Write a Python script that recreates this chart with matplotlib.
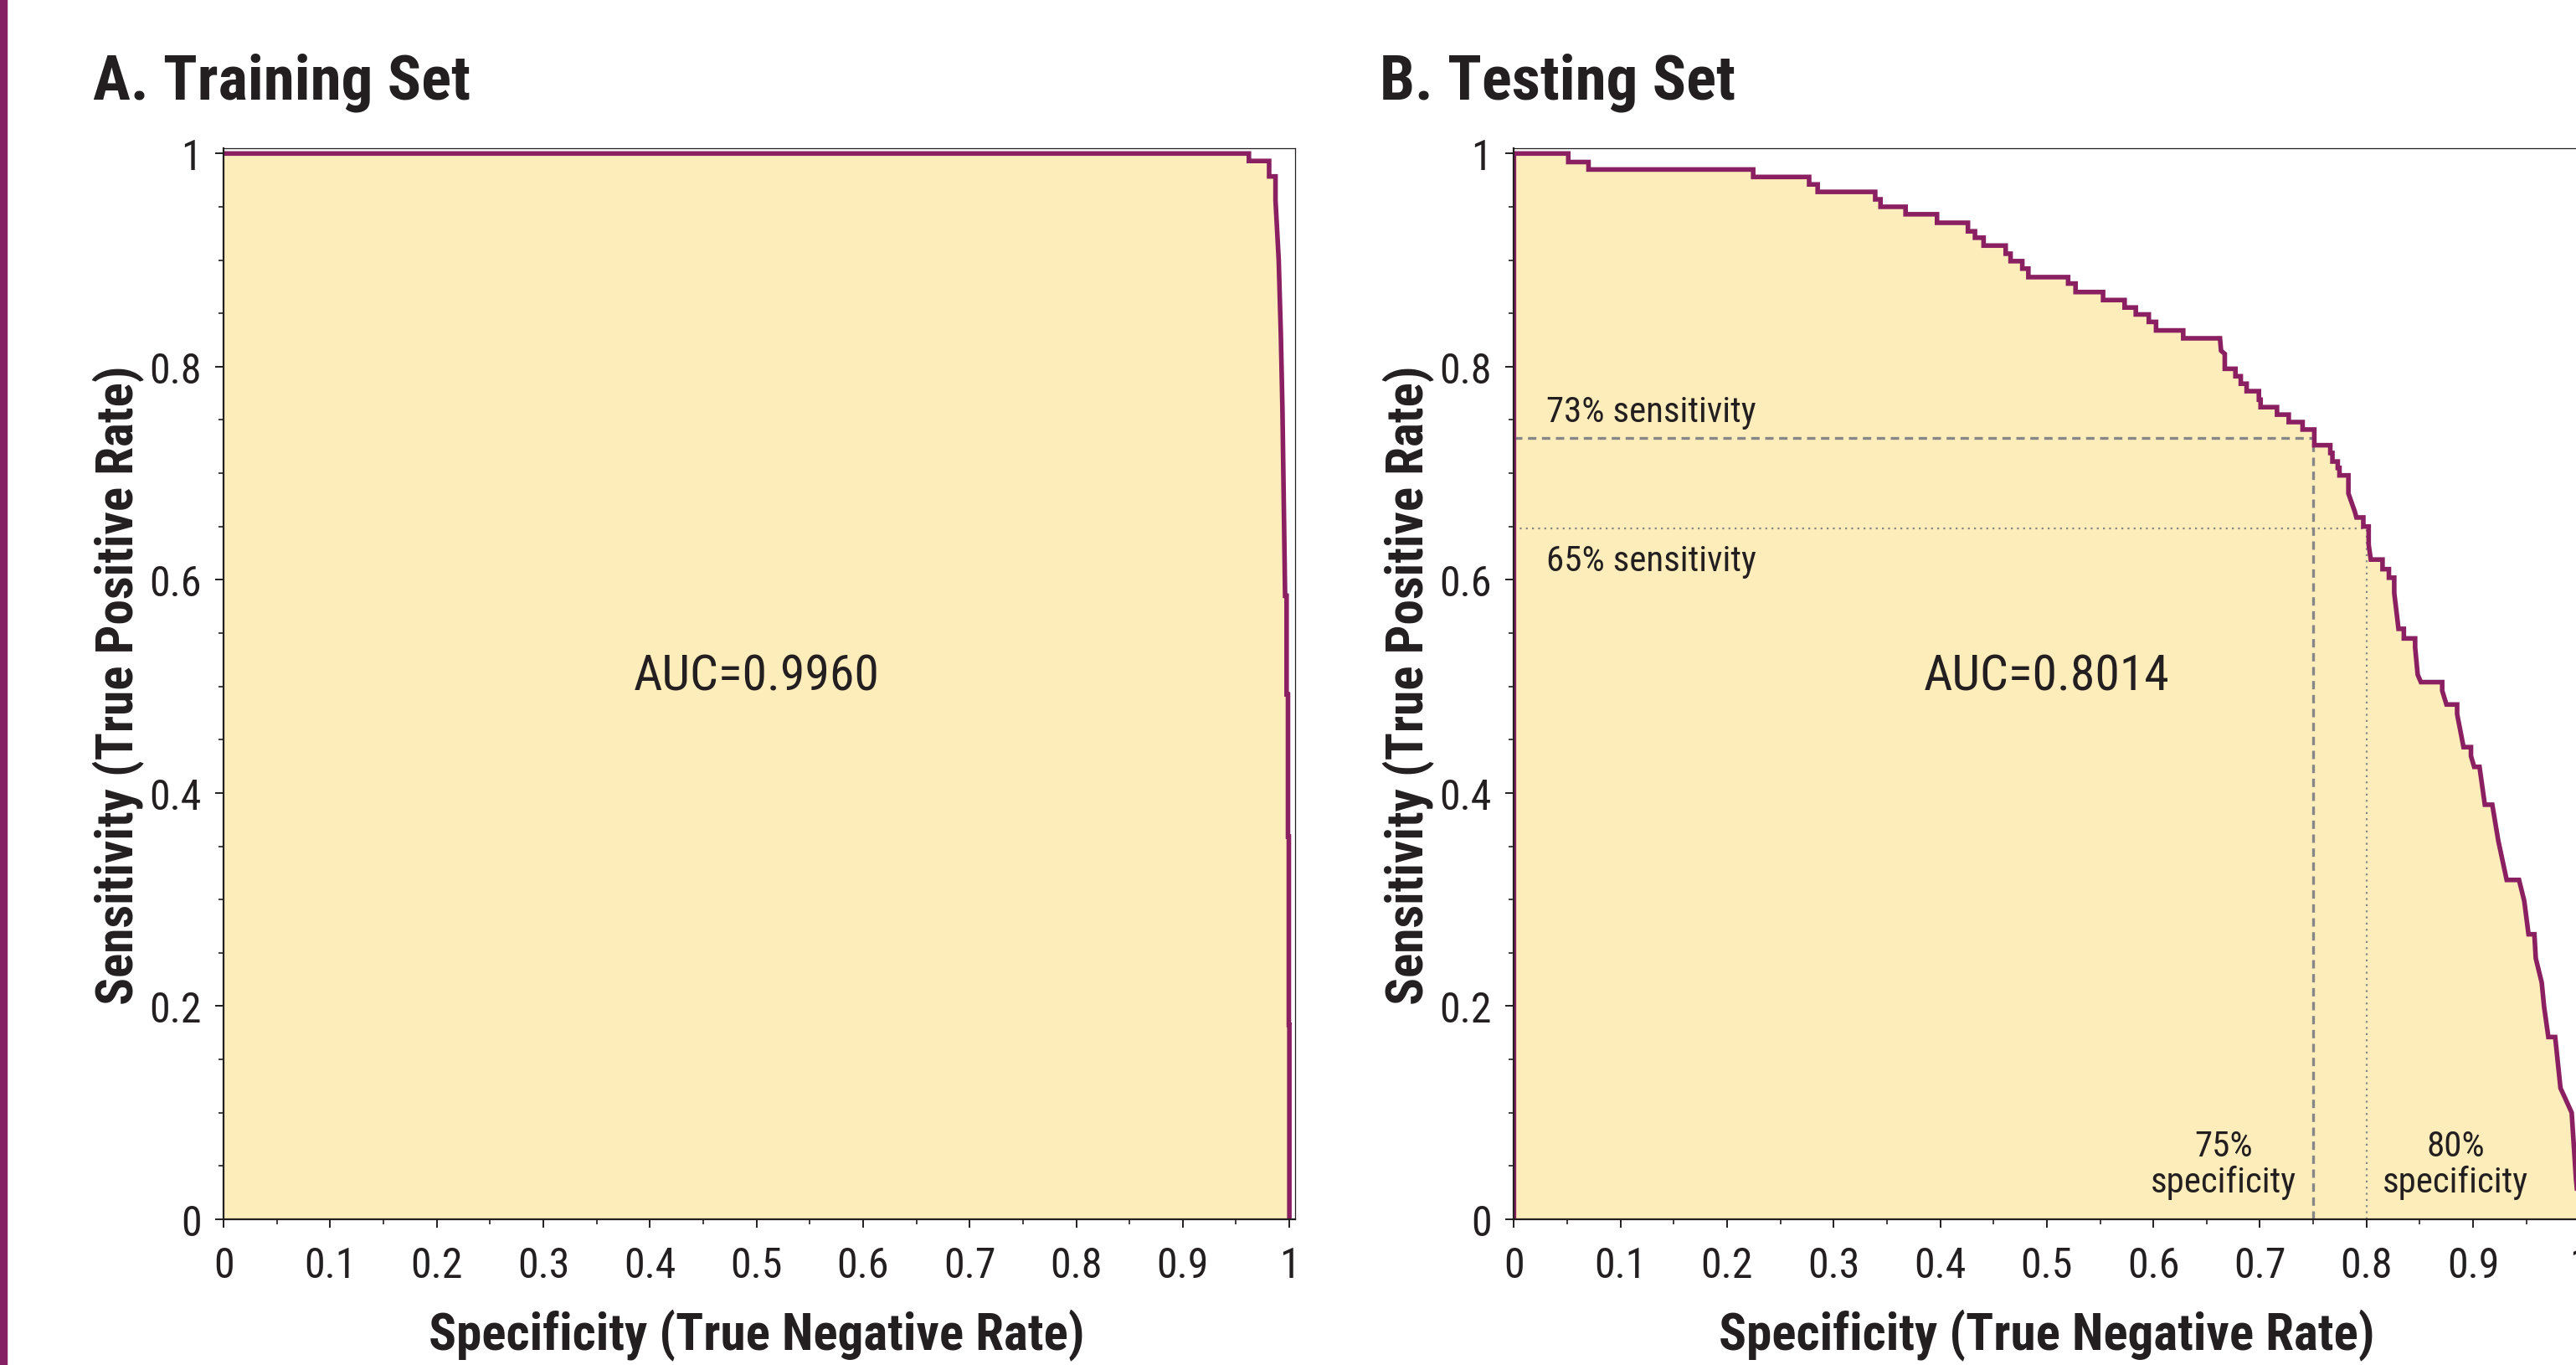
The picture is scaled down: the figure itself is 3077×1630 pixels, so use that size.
import matplotlib
matplotlib.use('Agg')
import matplotlib.pyplot as plt
from matplotlib import font_manager
from matplotlib.patches import Rectangle
from matplotlib.ticker import MultipleLocator

# pick a condensed font if one is installed
fonts = font_manager.fontManager.ttflist
names = {f.name for f in fonts}
family = None
for cand in ['Liberation Sans Narrow', 'Roboto Condensed', 'Open Sans Condensed',
             'Noto Sans Condensed', 'DejaVu Sans Condensed']:
    if cand in names:
        family = cand
        break
if family is None:
    cond = [f for f in fonts if 'condensed' in str(f.stretch).lower() or
            'narrow' in f.fname.lower() or 'condensed' in f.fname.lower()]
    if cond:
        family = cond[0].name
        plt.rcParams['font.stretch'] = 'condensed'
    else:
        family = 'DejaVu Sans'
plt.rcParams['font.family'] = [family, 'DejaVu Sans']

# training set ROC (specificity, sensitivity)
train_spec = [0.0, 0.962, 0.962, 0.981, 0.981, 0.987, 0.987, 0.990, 0.992, 0.9935,
              0.995, 0.996, 0.9974, 0.9974, 0.9987, 0.9987, 0.9995, 0.9995, 1.0, 1.0]
train_sens = [1.0, 1.0, 0.993, 0.993, 0.9785, 0.9785, 0.956, 0.900, 0.830, 0.760,
              0.655, 0.585, 0.585, 0.4925, 0.4925, 0.359, 0.359, 0.1825, 0.1825, 0.0]

# testing set ROC
test_spec = [0.0, 0.0, 0.051, 0.051, 0.070, 0.070, 0.2245, 0.2245, 0.277, 0.277, 0.285, 0.285,
             0.339, 0.339, 0.344, 0.344, 0.3675, 0.3675, 0.397, 0.397, 0.426, 0.426,
             0.4326, 0.4326, 0.4407, 0.4407, 0.4614, 0.4614, 0.466, 0.466, 0.477, 0.477,
             0.4827, 0.4827, 0.520, 0.520, 0.527, 0.527, 0.5528, 0.5528, 0.573, 0.573,
             0.5835, 0.5835, 0.5957, 0.5957, 0.6025, 0.6025, 0.628, 0.628, 0.6625, 0.6635,
             0.667, 0.667, 0.677, 0.677, 0.682, 0.682, 0.6875, 0.6875, 0.699, 0.699,
             0.7006, 0.7006, 0.716, 0.716, 0.727, 0.727, 0.740, 0.740, 0.751, 0.751,
             0.766, 0.766, 0.768, 0.768, 0.773, 0.773, 0.7746, 0.7746, 0.783, 0.783,
             0.789, 0.7905, 0.797, 0.797, 0.802, 0.802, 0.804, 0.815, 0.815, 0.821, 0.821,
             0.826, 0.826, 0.830, 0.835, 0.835, 0.8456, 0.8456, 0.848, 0.851, 0.871, 0.871,
             0.875, 0.885, 0.885, 0.891, 0.898, 0.898, 0.901, 0.906, 0.911, 0.918,
             0.9236, 0.9315, 0.9431, 0.948, 0.952, 0.9575, 0.9588, 0.9644, 0.9666,
             0.9706, 0.977, 0.982, 0.986, 0.9925, 0.9965, 1.0]
test_sens = [0.0, 1.0, 1.0, 0.992, 0.992, 0.985, 0.985, 0.978, 0.978, 0.971, 0.971, 0.964,
             0.964, 0.957, 0.957, 0.950, 0.950, 0.943, 0.943, 0.935, 0.935, 0.927,
             0.927, 0.921, 0.921, 0.9136, 0.9136, 0.906, 0.906, 0.899, 0.899, 0.892,
             0.892, 0.884, 0.884, 0.878, 0.878, 0.870, 0.870, 0.8625, 0.8625, 0.8555,
             0.8555, 0.849, 0.849, 0.842, 0.842, 0.834, 0.834, 0.8266, 0.8266, 0.815,
             0.812, 0.798, 0.798, 0.791, 0.791, 0.784, 0.784, 0.777, 0.777, 0.769,
             0.769, 0.762, 0.762, 0.755, 0.755, 0.748, 0.748, 0.741, 0.741, 0.7263,
             0.7263, 0.719, 0.719, 0.711, 0.711, 0.705, 0.705, 0.698, 0.698, 0.681,
             0.664, 0.6585, 0.6585, 0.650, 0.650, 0.633, 0.619, 0.619, 0.610, 0.610, 0.602,
             0.602, 0.5877, 0.554, 0.554, 0.545, 0.545, 0.5366, 0.511, 0.504, 0.504, 0.496,
             0.483, 0.483, 0.474, 0.443, 0.443, 0.4346, 0.4245, 0.4245, 0.389, 0.389,
             0.3553, 0.3184, 0.3184, 0.2986, 0.2674, 0.2674, 0.2448, 0.222, 0.1994,
             0.171, 0.171, 0.123, 0.1144, 0.100, 0.038, 0.0]

auc_values = ['AUC=0.9960', 'AUC=0.8014']
titles = ['A. Training Set', 'B. Testing Set']
sens_cut = [0.733, 0.648]   # dashed / dotted
spec_cut = [0.75, 0.80]

ink = '#231f20'
purple = '#8a1f62'
fill_col = '#fdedbb'
narrow = family != 'DejaVu Sans' or plt.rcParams['font.stretch'] == 'condensed'
k = 1.0 if narrow else 0.86   # shrink text a bit when only a wide font exists

fig = plt.figure(figsize=(30.77, 16.31), dpi=100)
fig.patches.append(Rectangle((0, 0), 8 / 3077, 1, transform=fig.transFigure,
                             color='#862064', zorder=0))

axA = fig.add_axes([0.0868, 0.1067, 0.4158, 0.7842])
axB = fig.add_axes([0.5877, 0.1067, 0.4158, 0.7842])

curves = [(train_spec, train_sens), (test_spec, test_sens)]
for ax, (xs, ys), auc in zip([axA, axB], curves, auc_values):
    ax.fill_between(xs, 0, ys, color=fill_col, lw=0, zorder=1)
    ax.plot(xs, ys, color=purple, lw=4.0, zorder=3, solid_joinstyle='miter')
    ax.set_xlim(0, 1.005)
    ax.set_ylim(0, 1.005)
    ax.xaxis.set_major_locator(MultipleLocator(0.1))
    ax.xaxis.set_minor_locator(MultipleLocator(0.05))
    ax.yaxis.set_major_locator(MultipleLocator(0.2))
    ax.yaxis.set_minor_locator(MultipleLocator(0.05))
    ax.xaxis.set_major_formatter(lambda v, p: '%g' % round(v, 2))
    ax.yaxis.set_major_formatter(lambda v, p: '%g' % round(v, 2))
    ax.tick_params(which='major', length=7, width=1.4, color=ink, labelsize=36 * k,
                   labelcolor=ink)
    ax.tick_params(which='minor', length=4.5, width=1.2, color=ink)
    ax.tick_params(axis='x', which='major', pad=15)
    ax.tick_params(axis='y', which='major', pad=12)
    for s in ['left', 'bottom']:
        ax.spines[s].set_linewidth(1.6)
        ax.spines[s].set_color(ink)
        ax.spines[s].set_zorder(4)
    for s in ['top', 'right']:
        ax.spines[s].set_linewidth(0.9)
        ax.spines[s].set_color(ink)
    ax.text(0.5, 0.497, auc, ha='center', va='baseline', fontsize=43 * k, color=ink,
            zorder=5)

# cut-off lines on testing set
axB.plot([0, spec_cut[0]], [sens_cut[0], sens_cut[0]], color='#878787', lw=2.4,
         dashes=(3, 2), zorder=2)
axB.plot([spec_cut[0], spec_cut[0]], [0, sens_cut[0]], color='#878787', lw=2.4,
         dashes=(3, 2), zorder=2)
axB.plot([0, spec_cut[1]], [sens_cut[1], sens_cut[1]], color='#878787', lw=1.6,
         dashes=(1, 2.3), zorder=2)
axB.plot([spec_cut[1], spec_cut[1]], [0, sens_cut[1]], color='#878787', lw=1.6,
         dashes=(1, 2.3), zorder=2)
axB.text(0.030, 0.749, '73% sensitivity', fontsize=31 * k, color=ink, va='baseline',
         zorder=5)
axB.text(0.030, 0.609, '65% sensitivity', fontsize=31 * k, color=ink, va='baseline',
         zorder=5)
axB.text(0.666, 0.019, '75%\nspecificity', fontsize=31 * k, color=ink, ha='center',
         va='bottom', multialignment='center', linespacing=1.05, zorder=5)
axB.text(0.8835, 0.019, '80%\nspecificity', fontsize=31 * k, color=ink, ha='center',
         va='bottom', multialignment='center', linespacing=1.05, zorder=5)

# titles and axis labels
fig.text(111 / 3077, 1 - 118 / 1631, titles[0], fontsize=54 * k, fontweight='bold',
         color=ink, va='baseline')
fig.text(1648 / 3077, 1 - 118 / 1631, titles[1], fontsize=54 * k, fontweight='bold',
         color=ink, va='baseline')
for left in [0.0868, 0.5877]:
    fig.text(left + 0.4158 * 0.5 / 1.005, 1 - 1612 / 1631,
             'Specificity (True Negative Rate)', fontsize=44 * k, fontweight='bold',
             color=ink, ha='center', va='baseline')
for lx in [142 / 3077, (142 + 1541) / 3077]:
    fig.text(lx, 1 - 818 / 1631, 'Sensitivity (True Positive Rate)', fontsize=44 * k,
             fontweight='bold', color=ink, ha='center', va='center', rotation=90)

plt.savefig('out.png', dpi=100)
